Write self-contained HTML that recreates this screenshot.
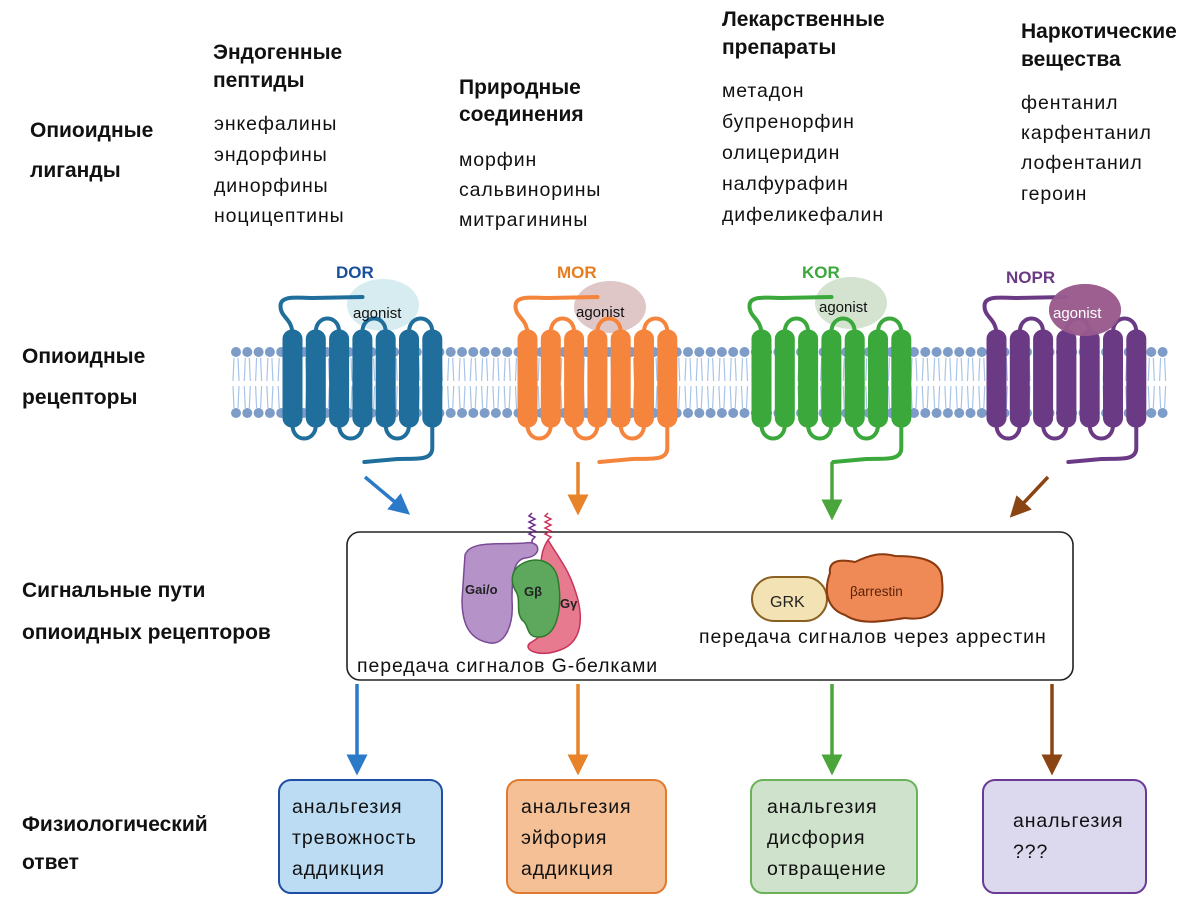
<!DOCTYPE html>
<html><head><meta charset="utf-8"><style>
body{margin:0;background:#fff;width:1200px;height:905px;overflow:hidden}
svg{display:block}
.h{font-family:"Liberation Sans Narrow","Liberation Sans",sans-serif;font-weight:bold;font-size:21px;fill:#111}
.t{font-family:"Liberation Sans",sans-serif;font-size:19.5px;letter-spacing:0.9px;fill:#111}
.r{font-family:"Liberation Sans",sans-serif;font-weight:bold;font-size:17px}
.ag{font-family:"Liberation Sans",sans-serif;font-size:15px;fill:#111}
.s{font-family:"Liberation Sans",sans-serif;font-size:13px;font-weight:bold;fill:#222}
</style></head><body>
<svg id="sv" width="1200" height="905" viewBox="0 0 1200 905" xmlns="http://www.w3.org/2000/svg">
<defs>
<marker id="mb" markerWidth="6" markerHeight="6" refX="3" refY="3" orient="auto" markerUnits="strokeWidth"><path d="M0,0L6,3L0,6z" fill="#2a7ac8"/></marker>
<marker id="mo" markerWidth="6" markerHeight="6" refX="3" refY="3" orient="auto" markerUnits="strokeWidth"><path d="M0,0L6,3L0,6z" fill="#e8832a"/></marker>
<marker id="mg" markerWidth="6" markerHeight="6" refX="3" refY="3" orient="auto" markerUnits="strokeWidth"><path d="M0,0L6,3L0,6z" fill="#4aa53a"/></marker>
<marker id="mr" markerWidth="6" markerHeight="6" refX="3" refY="3" orient="auto" markerUnits="strokeWidth"><path d="M0,0L6,3L0,6z" fill="#8b4513"/></marker>
</defs>
<g id="mem"></g>
<g id="rec"></g>

<text class="h" x="30" y="137">Опиоидные</text><text class="h" x="30" y="177">лиганды</text>
<text class="h" x="22" y="363">Опиоидные</text><text class="h" x="22" y="404">рецепторы</text>
<text class="h" x="22" y="597">Сигнальные пути</text><text class="h" x="22" y="639">опиоидных рецепторов</text>
<text class="h" x="22" y="831">Физиологический</text><text class="h" x="22" y="869">ответ</text>

<text class="h" x="213" y="59">Эндогенные</text><text class="h" x="213" y="87">пептиды</text>
<text class="t" x="214" y="130">энкефалины</text><text class="t" x="214" y="161">эндорфины</text><text class="t" x="214" y="192">динорфины</text><text class="t" x="214" y="222">ноцицептины</text>
<text class="h" x="459" y="94">Природные</text><text class="h" x="459" y="121">соединения</text>
<text class="t" x="459" y="166">морфин</text><text class="t" x="459" y="196">сальвинорины</text><text class="t" x="459" y="226">митрагинины</text>
<text class="h" x="722" y="26">Лекарственные</text><text class="h" x="722" y="54">препараты</text>
<text class="t" x="722" y="97">метадон</text><text class="t" x="722" y="128">бупренорфин</text><text class="t" x="722" y="159">олицеридин</text><text class="t" x="722" y="190">налфурафин</text><text class="t" x="722" y="221">дифеликефалин</text>
<text class="h" x="1021" y="38">Наркотические</text><text class="h" x="1021" y="66">вещества</text>
<text class="t" x="1021" y="109">фентанил</text><text class="t" x="1021" y="139">карфентанил</text><text class="t" x="1021" y="169">лофентанил</text><text class="t" x="1021" y="200">героин</text>

<text class="r" x="336" y="278" fill="#1a4f9c">DOR</text>
<text class="r" x="557" y="278" fill="#e87d20">MOR</text>
<text class="r" x="802" y="278" fill="#3aa83a">KOR</text>
<text class="r" x="1006" y="283" fill="#6b3a85">NOPR</text>

<g stroke-width="3.5" fill="none">
<line x1="365" y1="477" x2="402" y2="508" stroke="#2a7ac8" marker-end="url(#mb)"/>
<line x1="578" y1="462" x2="578" y2="505" stroke="#e8832a" marker-end="url(#mo)"/>
<line x1="832" y1="462" x2="832" y2="510" stroke="#4aa53a" marker-end="url(#mg)"/>
<line x1="1048" y1="477" x2="1017" y2="510" stroke="#8b4513" marker-end="url(#mr)"/>
<line x1="357" y1="684" x2="357" y2="765" stroke="#2a7ac8" marker-end="url(#mb)"/>
<line x1="578" y1="684" x2="578" y2="765" stroke="#e8832a" marker-end="url(#mo)"/>
<line x1="832" y1="684" x2="832" y2="765" stroke="#4aa53a" marker-end="url(#mg)"/>
<line x1="1052" y1="684" x2="1052" y2="765" stroke="#8b4513" marker-end="url(#mr)"/>
</g>

<rect x="347" y="532" width="726" height="148" rx="13" fill="none" stroke="#222" stroke-width="1.6"/>
<path d="M532,540 l3,-3 l-6,-3 l6,-3 l-6,-3 l6,-3 l-6,-3 l6,-3 l-6,-3 l3,-3" stroke="#6b2a8a" stroke-width="1.5" fill="none"/>
<path d="M548,540 l3,-3 l-6,-3 l6,-3 l-6,-3 l6,-3 l-6,-3 l6,-3 l-6,-3 l3,-3" stroke="#c8325a" stroke-width="1.5" fill="none"/>
<line x1="532" y1="540" x2="532" y2="545" stroke="#6b2a8a" stroke-width="1.5"/>
<path d="M465,555 C470,540 500,545 525,543 C542,540 542,557 525,558 C515,560 512,570 512,600 C514,625 505,645 490,643 C470,640 462,625 462,600 Z" fill="#b592c8" stroke="#7a4a95" stroke-width="1.5"/>
<path d="M548,540 C560,560 570,570 578,600 C585,630 575,645 560,650 C540,658 522,650 530,643 C545,635 555,620 548,595 C540,575 538,555 548,540Z" fill="#e87a90" stroke="#c8325a" stroke-width="1.5"/>
<path d="M520,565 C535,555 555,560 558,580 C562,600 560,635 540,637 C525,638 530,625 522,620 C515,610 522,600 515,590 C510,580 512,570 520,565Z" fill="#5da85d" stroke="#2a7a2a" stroke-width="1.5"/>
<text class="s" x="465" y="594">Gai/o</text><text class="s" x="524" y="596">Gβ</text><text class="s" x="560" y="608">Gγ</text>
<text class="t" x="357" y="672">передача сигналов G-белками</text>
<rect x="752" y="577" width="75" height="44" rx="22" fill="#f2e2b4" stroke="#8a6020" stroke-width="2"/>
<text x="770" y="607" font-family="'Liberation Sans',sans-serif" font-size="16" fill="#222">GRK</text>
<path d="M830,573 C828,558 845,560 855,562 C870,555 880,552 895,556 C915,556 942,558 942,580 C945,605 935,622 905,618 C880,622 860,625 845,615 C830,610 822,595 830,573Z" fill="#ef8a56" stroke="#8a3a10" stroke-width="2"/>
<text x="850" y="596" font-family="'Liberation Sans',sans-serif" font-size="13.5" fill="#5a2208">βarrestin</text>
<text class="t" x="699" y="643">передача сигналов через аррестин</text>

<rect x="279" y="780" width="163" height="113" rx="12" fill="#bcdcf4" stroke="#1f4fa0" stroke-width="2"/>
<rect x="507" y="780" width="159" height="113" rx="12" fill="#f5c096" stroke="#e07a30" stroke-width="2"/>
<rect x="751" y="780" width="166" height="113" rx="12" fill="#cfe3cc" stroke="#6ab25a" stroke-width="2"/>
<rect x="983" y="780" width="163" height="113" rx="12" fill="#dcd8ee" stroke="#6b3a95" stroke-width="2"/>
<text class="t" x="292" y="813">анальгезия</text><text class="t" x="292" y="844">тревожность</text><text class="t" x="292" y="875">аддикция</text>
<text class="t" x="521" y="813">анальгезия</text><text class="t" x="521" y="844">эйфория</text><text class="t" x="521" y="875">аддикция</text>
<text class="t" x="767" y="813">анальгезия</text><text class="t" x="767" y="844">дисфория</text><text class="t" x="767" y="875">отвращение</text>
<text class="t" x="1013" y="827">анальгезия</text><text class="t" x="1013" y="858">???</text>
<g id="agt">
<text class="ag" x="353" y="318">agonist</text>
<text class="ag" x="576" y="317">agonist</text>
<text class="ag" x="819" y="312">agonist</text>
<text class="ag" x="1053" y="318" style="fill:#fff">agonist</text>
</g>
</svg>
<script>
var NS="http://www.w3.org/2000/svg";
function el(p,t,a){var e=document.createElementNS(NS,t);for(var k in a)e.setAttribute(k,a[k]);p.appendChild(e);return e;}
var mem=document.getElementById('mem');
for(var x=236;x<1170;x+=11.3){
 el(mem,'path',{d:'M'+(x-2)+',358 L'+(x-3)+',381 M'+(x+2)+',358 L'+(x+3)+',381 M'+(x-3)+',386 L'+(x-2)+',408 M'+(x+3)+',386 L'+(x+2)+',408',stroke:'#a8c4e8','stroke-width':1.2,fill:'none'});
 el(mem,'circle',{cx:x,cy:352,r:5,fill:'#7d9cc7'});
 el(mem,'circle',{cx:x,cy:413,r:5,fill:'#7d9cc7'});
}
var rec=document.getElementById('rec');
var R=[[283,'#1f6e9c','#d6ecf1',383,305,1],[518,'#f5843c','#dfc7c7',610,307,1],[752,'#3aa83a','#d3e3cf',851,303,1],[987,'#6b3a85','#9c5f8f',1085,310,0]];
R.forEach(function(r){
 var x0=r[0],c=r[1];
 var g=el(rec,'g',{});
 el(g,'ellipse',{cx:r[3],cy:r[4],rx:36,ry:26,fill:r[2]});
 var cx=function(i){return x0+9.5+23.3*i;};
 var s={stroke:c,'stroke-width':4,fill:'none','stroke-linecap':'round'};
 function loop(i,top){var a=cx(i),b=cx(i+1),y=top?332:425,yy=top?314:443;
  el(g,'path',Object.assign({d:'M'+a+','+y+' C'+a+','+yy+' '+b+','+yy+' '+b+','+y},s));}
 [1,3,5].forEach(function(i){loop(i,1);});
 [0,2,4].forEach(function(i){loop(i,0);});
 var n=cx(0);
 el(g,'path',Object.assign({d:'M'+n+',335 C'+n+',318 '+(n-12)+',318 '+(n-12)+',306 C'+(n-12)+',295 '+(n+5)+',298 '+(n+20)+',298 L'+(n+70)+',297'},s));
 var t=cx(6);
 el(g,'path',Object.assign({d:'M'+t+',420 L'+t+',448 C'+t+',462 '+(t-20)+',458 '+(t-35)+',459 L'+(t-68)+',462'},s));
 for(var i=0;i<7;i++) el(g,'rect',{x:x0+23.3*i,y:330,width:19,height:97,rx:9,fill:c,stroke:c,'stroke-width':1});
 if(!r[5]){el(g,'ellipse',{cx:r[3],cy:r[4],rx:36,ry:26,fill:r[2],opacity:0.85});}
});
</script>
</body></html>
